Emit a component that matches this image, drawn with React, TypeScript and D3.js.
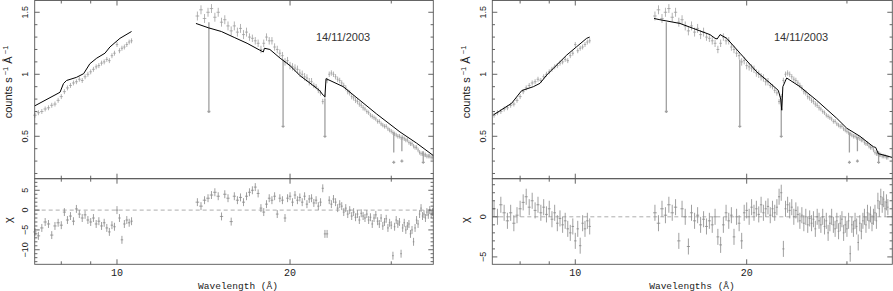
import React, { useEffect, useRef } from "react";
import * as d3 from "d3";

// RGS bins: two chunks either side of the CCD gap (start wavelength, bin width, in Å)
const chunkStart = [7.2, 13.8];
const chunkStep = [0.1, 0.2];

// observed flux, counts s-1 Å-1
const flux1 = [
  0.67, 0.69, 0.7, 0.72, 0.73, 0.75, 0.76, 0.79, 0.82, 0.86,
  0.89, 0.91, 0.93, 0.94, 0.96, 0.95, 0.98, 1.0, 1.02, 1.04,
  1.06, 1.07, 1.09, 1.1, 1.12, 1.11, 1.15, 1.17, 1.24, 1.19,
  1.21, 1.22, 1.24, 1.26, 1.27,
];
const flux2 = [
  1.47, 1.52, 1.45, 1.5, 1.53, 1.46, 1.5, 1.42, 1.44, 1.39,
  1.35, 1.39, 1.34, 1.37, 1.32, 1.34, 1.3, 1.29, 1.27, 1.25,
  1.2, 1.25, 1.3, 1.27, 1.27, 1.22, 1.2, 1.17, 1.15, 1.1,
  1.11, 1.07, 1.06, 1.05, 1.04, 1.01, 1.0, 0.98, 0.97, 0.94,
  0.94, 0.91, 0.9, 0.87, 0.85, 0.78, 0.82, 0.95, 1.0, 1.01,
  1.0, 0.98, 0.96, 0.95, 0.93, 0.91, 0.89, 0.86, 0.85, 0.82,
  0.81, 0.79, 0.78, 0.76, 0.75, 0.73, 0.72, 0.7, 0.69, 0.67,
  0.66, 0.65, 0.64, 0.62, 0.62, 0.6, 0.59, 0.58, 0.58, 0.56,
  0.55, 0.54, 0.53, 0.52, 0.51, 0.5, 0.5, 0.49, 0.49, 0.48,
  0.47, 0.47, 0.45, 0.44, 0.44, 0.42, 0.41, 0.41, 0.39, 0.37,
  0.36, 0.36, 0.35, 0.35, 0.34, 0.34, 0.34, 0.33, 0.33,
];

// 1 sigma error per wavelength band
const errEdges = [7, 10.7, 17, 22, 27, 36];
const errSize = [0.02, 0.036, 0.03, 0.022, 0.018];

// residuals (chi) for the left fit
const chiLeft1 = [
  -5.5, -6.5, -4.5, -3.0, -3.5, -6.3, -4.0, -3.2, -3.8, -0.5,
  -2.5, -1.5, -2.8, 0.3, -1.0, -2.0, -1.2, -2.5, -3.0, -2.0,
  -3.5, -2.8, -4.0, -3.2, -4.5, -5.5, -3.8, -4.2, 0.0, -2.0,
  -7.5, -3.5, -2.5, -3.2, -2.8,
];
const chiLeft2 = [
  2.0, 1.0, 2.5, 3.0, 3.8, 4.5, 3.5, -1.6, 4.0, 3.0,
  -2.9, 3.5, 2.5, 3.2, 2.0, 3.5, 4.5, 5.0, 5.8, 4.2,
  0.5, -0.5, 1.5, 3.0, 2.5, 3.5, -1.0, 3.0, 2.5, -2.0,
  3.0, 3.5, 2.0, 3.8, 2.5, 3.2, 2.0, 3.5, 1.5, 2.8,
  3.0, 1.8, 2.5, 1.0, 2.0, 5.5, -6.0, -6.0, 2.5, 1.5,
  2.8, 2.0, 0.5, 1.5, 1.0, -0.5, 0.5, -1.0, 0.0, -1.5,
  -0.5, -1.8, -1.0, -2.5, -0.8, -1.5, -2.0, -1.0, -2.5, -1.8,
  -3.5, -2.0, -1.2, -2.8, -3.5, -2.0, -4.0, -3.0, -2.2, -4.5,
  -3.2, -3.8, -11.5, -4.2, -2.5, -3.5, -3.0, -11.0, -4.5, -3.2,
  -5.0, -4.0, -3.5, -6.0, -5.0, -8.0, -4.5, -2.5, -3.5, -1.0,
  0.5, -1.5, -1.0, -2.0, -0.5, -1.2, 0.0, -1.0, -0.5,
];

// residuals (chi) for the right fit
const chiRight1 = [
  1.0, 0.0, 1.5, 0.5, -0.5, 0.5, -0.8, 0.2, 1.0, 1.8,
  2.5, 1.2, 2.0, 0.8, 1.5, 0.5, 1.2, 0.3, 1.0, -0.3,
  0.5, -0.8, -0.2, -1.0, -0.5, -1.5, -2.0, -1.2, -3.0, -1.5,
  -3.6, -0.8, -1.5, -0.5, -1.2,
];
const chiRight2 = [
  0.5, -0.8, 1.0, 0.2, 1.5, 0.5, 1.2, -3.0, 1.0, 0.0,
  -3.7, 0.5, -0.5, 0.2, -1.0, -0.3, -1.2, -0.5, -1.0, 0.0,
  -2.5, -3.5, -1.0, 0.5, -0.5, 0.2, -2.5, 0.0, -0.8, -3.0,
  0.5, 0.8, 0.0, 1.2, 0.5, 1.0, 0.3, 1.5, 0.5, 1.0,
  1.3, 0.2, 1.0, 0.5, 1.2, 2.5, 3.0, -4.0, 1.0, 1.5,
  0.8, 1.2, 0.0, 0.8, 0.3, -0.5, 0.2, -0.8, 0.0, -1.0,
  -0.2, -0.8, -0.3, -1.5, 0.0, -0.5, -1.0, 0.0, -1.2, -0.5,
  -2.0, -0.8, 0.0, -1.0, -1.5, -0.5, -1.8, -0.8, -0.3, -2.0,
  -1.0, -1.5, -0.5, -4.6, -1.0, -1.5, -0.5, -1.2, -3.2, -0.8,
  -1.8, -0.5, 0.0, -1.0, 0.5, -0.5, 0.3, -0.8, 0.0, 0.5,
  -0.5, 2.0, 1.0, 2.5, 1.5, 2.2, 1.0, 1.8, 1.2,
];

// folded models (null = gap between chunks)
const modelLeftWave = [
  7.19, 7.96, 8.07, 8.17, 8.5, 8.75, 8.97, 9.22, 9.53, 9.72, 10.12, 10.6, null,
  13.72, 14.42, 15.19, 16.03, 16.84, 17.69, 17.97, 18.05, 18.45, 19.22, 20.0, 20.8,
  21.5, 22.5, 22.85, 23.0, 23.1, 24.75, 26.46, 28.29, 31.06, 33.2, 35.5,
];
const modelLeftFlux = [
  0.745, 0.855, 0.925, 0.95, 0.975, 1.005, 1.085, 1.13, 1.17, 1.22, 1.29, 1.345, null,
  1.41, 1.375, 1.345, 1.295, 1.25, 1.196, 1.18, 1.21, 1.2, 1.13, 1.07, 0.99,
  0.94, 0.87, 0.83, 0.82, 0.965, 0.9, 0.79, 0.68, 0.535, 0.445, 0.345,
];
const modelRightWave = [
  7.18, 7.73, 8.05, 8.44, 8.67, 8.91, 9.21, 9.66, 10.06, 10.47, 10.6, null,
  13.75, 14.08, 15.27, 16.11, 17.24, 17.6, 17.75, 17.96, 18.45, 19.47, 20.83, 21.97,
  22.73, 22.95, 23.05, 23.15, 23.51, 24.81, 26.54, 28.79, 29.98, 31.62, 33.37, 33.7,
  34.05, 36.0,
];
const modelRightFlux = [
  0.672, 0.766, 0.868, 0.9, 0.927, 0.994, 1.061, 1.155, 1.223, 1.29, 1.3, null,
  1.45, 1.44, 1.41, 1.37, 1.32, 1.29, 1.285, 1.32, 1.29, 1.17, 1.02, 0.93,
  0.87, 0.8, 0.71, 0.9, 0.97, 0.9, 0.79, 0.645, 0.565, 0.5, 0.416, 0.41,
  0.36, 0.33,
];

// bad-column drops in the spectrum
const dropWave = [14.45, 19.45, 23.0, 30.3, 31.3, 34.1];
const dropTop = [1.42, 1.12, 0.8, 0.53, 0.49, 0.38];
const dropEnd = [0.7, 0.58, 0.5, 0.37, 0.38, 0.3];
const dropPoint = [0.7, 0.58, 0.5, 0.29, 0.3, 0.29];

const fluxDomain = [0.158, 1.595];
const fluxLabels = [0.5, 1, 1.5];
const waveTicks = [8, 9, 10, 20, 30];
const waveMajor = [10, 20];
const waveLabels = [10, 20];
const dateLabel = "14/11/2003";

const panels = [
  {
    left: 34.7,
    right: 433.3,
    xDomain: [7.192, 35.5],
    chiDomain: [-13.67, 7.92],
    chiLabels: [5, 0, -5, -10],
    chi: [chiLeft1, chiLeft2],
    modelWave: modelLeftWave,
    modelFlux: modelLeftFlux,
    xTitle: "Wavelength (Å)",
    xTitleX: 238,
    dateX: 343,
  },
  {
    left: 492.3,
    right: 892.3,
    xDomain: [7.149, 36.04],
    chiDomain: [-5.92, 4.75],
    chiLabels: [0, -5],
    chi: [chiRight1, chiRight2],
    modelWave: modelRightWave,
    modelFlux: modelRightFlux,
    xTitle: "Wavelengths (Å)",
    xTitleX: 692,
    dateX: 801,
  },
];

const mono = "'Liberation Mono', 'DejaVu Sans Mono', monospace";
const sans = "'Liberation Sans', Arial, sans-serif";

function errAt(w: number) {
  const i = d3.bisectRight(errEdges, w) - 1;
  return errSize[Math.max(0, Math.min(errSize.length - 1, i))];
}

function drawPanel(svg: any, p: any) {
  const top = 0.5;
  const mid = 178.7;
  const bottom = 264.3;

  const x = d3.scaleLog().domain(p.xDomain).range([p.left, p.right]);
  const y = d3.scaleLinear().domain(fluxDomain).range([mid, top]);
  const yc = d3.scaleLinear().domain(p.chiDomain).range([bottom, mid]);

  const bins: any[] = [];
  [flux1, flux2].forEach((fl, c) =>
    fl.forEach((f, i) => {
      const w = chunkStart[c] + i * chunkStep[c];
      bins.push({ w, f, e: errAt(w), hw: chunkStep[c] / 2, chi: p.chi[c][i] });
    })
  );

  const g = svg.append("g");

  // spectrum crosses
  g.append("path")
    .attr(
      "d",
      bins
        .map(
          (b) =>
            `M${x(b.w - b.hw)},${y(b.f)}H${x(b.w + b.hw)}M${x(b.w)},${y(b.f - b.e)}V${y(b.f + b.e)}`
        )
        .join("")
    )
    .attr("fill", "none")
    .attr("stroke", "#9a9a9a")
    .attr("stroke-width", 0.75);

  // drops
  g.append("path")
    .attr(
      "d",
      dropWave
        .map((w, i) => {
          const px = x(w);
          const py = y(dropPoint[i]);
          return `M${px},${y(dropTop[i])}V${y(dropEnd[i])}M${px - 1.5},${py}H${px + 1.5}M${px},${py - 1.5}V${py + 1.5}`;
        })
        .join("")
    )
    .attr("fill", "none")
    .attr("stroke", "#a0a0a0")
    .attr("stroke-width", 1.3);

  // model
  const modelPts = p.modelWave.map((w: number | null, i: number) =>
    w === null ? null : [w, p.modelFlux[i]]
  );
  const line = d3
    .line<any>()
    .defined((d) => d !== null)
    .x((d) => x(d[0]))
    .y((d) => y(d[1]));
  g.append("path")
    .attr("d", line(modelPts))
    .attr("fill", "none")
    .attr("stroke", "#000")
    .attr("stroke-width", 1);

  // residuals
  g.append("line")
    .attr("x1", p.left)
    .attr("x2", p.right)
    .attr("y1", yc(0))
    .attr("y2", yc(0))
    .attr("stroke", "#999")
    .attr("stroke-width", 0.8)
    .attr("stroke-dasharray", "4,3");

  g.append("path")
    .attr(
      "d",
      bins
        .map(
          (b) =>
            `M${x(b.w - b.hw)},${yc(b.chi)}H${x(b.w + b.hw)}M${x(b.w)},${yc(b.chi - 1)}V${yc(b.chi + 1)}`
        )
        .join("")
    )
    .attr("fill", "none")
    .attr("stroke", "#888")
    .attr("stroke-width", 0.8);

  // frames
  [
    [top, mid],
    [mid, bottom],
  ].forEach(([a, b]) =>
    g.append("rect")
      .attr("x", p.left)
      .attr("y", a)
      .attr("width", p.right - p.left)
      .attr("height", b - a)
      .attr("fill", "none")
      .attr("stroke", "#555")
      .attr("stroke-width", 0.9)
  );

  // ticks
  const seg: string[] = [];
  waveTicks.forEach((v) => {
    const L = waveMajor.includes(v) ? 5 : 3;
    const px = x(v);
    seg.push(`M${px},${top}v${L}M${px},${mid}v${-L}M${px},${mid}v${L}M${px},${bottom}v${-L}`);
  });
  d3.range(2, 16).forEach((i) => {
    const L = i % 5 === 0 ? 5 : 2.7;
    const py = y(i / 10);
    seg.push(`M${p.left},${py}h${L}M${p.right},${py}h${-L}`);
  });
  d3.range(Math.ceil(p.chiDomain[0]), Math.floor(p.chiDomain[1]) + 1).forEach((v) => {
    const L = v % 5 === 0 ? 5 : 2.7;
    const py = yc(v);
    seg.push(`M${p.left},${py}h${L}M${p.right},${py}h${-L}`);
  });
  g.append("path")
    .attr("d", seg.join(""))
    .attr("fill", "none")
    .attr("stroke", "#555")
    .attr("stroke-width", 0.9);

  // tick labels
  waveLabels.forEach((v) =>
    g.append("text")
      .attr("x", x(v))
      .attr("y", 275.5)
      .attr("text-anchor", "middle")
      .style("font-family", mono)
      .style("font-size", "10px")
      .attr("fill", "#222")
      .text(v)
  );
  const vlabel = (v: number, py: number) =>
    g.append("text")
      .attr("transform", `translate(${p.left - 6.5},${py}) rotate(-90)`)
      .attr("text-anchor", "middle")
      .style("font-family", sans)
      .style("font-size", "9px")
      .attr("fill", "#222")
      .text(String(v).replace("-", "\u2212"));
  fluxLabels.forEach((v) => vlabel(v, y(v)));
  p.chiLabels.forEach((v: number) => vlabel(v, yc(v)));

  // titles
  g.append("text")
    .attr("x", p.xTitleX)
    .attr("y", 288.5)
    .attr("text-anchor", "middle")
    .style("font-family", mono)
    .style("font-size", "9.5px")
    .attr("fill", "#222")
    .text(p.xTitle);

  const yt = g.append("text")
    .attr("transform", `translate(${p.left - 22.5},82) rotate(-90)`)
    .attr("text-anchor", "middle")
    .style("font-family", sans)
    .style("font-size", "11px")
    .attr("fill", "#222");
  yt.append("tspan").text("counts s");
  yt.append("tspan").attr("dy", -4).style("font-size", "7.5px").text(" \u22121");
  yt.append("tspan").attr("dy", 4).text(" Å");
  yt.append("tspan").attr("dy", -4).style("font-size", "7.5px").text(" \u22121");

  g.append("text")
    .attr("transform", `translate(${p.left - 23},220) rotate(-90)`)
    .attr("text-anchor", "middle")
    .style("font-family", sans)
    .style("font-size", "11px")
    .attr("fill", "#222")
    .text("χ");

  g.append("text")
    .attr("x", p.dateX)
    .attr("y", 41)
    .attr("text-anchor", "middle")
    .style("font-family", sans)
    .style("font-size", "11px")
    .attr("fill", "#333")
    .text(dateLabel);
}

export default function App() {
  const ref = useRef<SVGSVGElement>(null);

  useEffect(() => {
    const svg = d3.select(ref.current);
    svg.selectAll("*").remove();
    panels.forEach((p) => drawPanel(svg, p));
  }, []);

  return (
    <svg
      ref={ref}
      width={893}
      height={291}
      style={{ position: "absolute", left: 0, top: 0, background: "#fff" }}
    />
  );
}
